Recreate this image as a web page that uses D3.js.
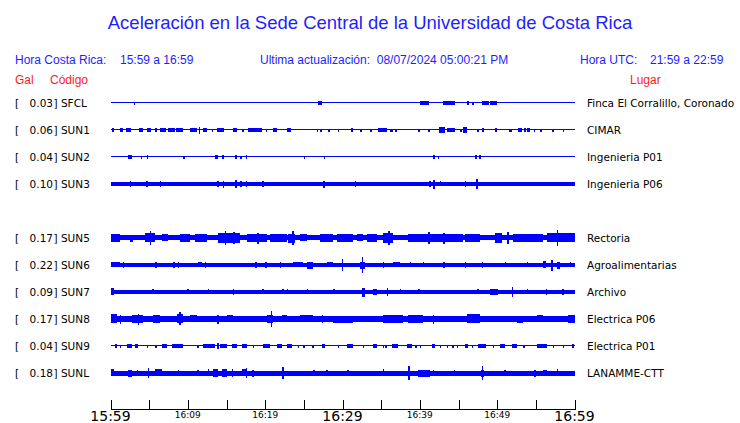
<!DOCTYPE html>
<html><head><meta charset="utf-8">
<script src="https://cdn.jsdelivr.net/npm/d3@7"></script>
<style>body{margin:0;background:#fff}svg{display:block}</style>
</head><body>
<script>
// ---------- DATA ----------
const title = "Aceleración en la Sede Central de la Universidad de Costa Rica";
const headerCR = ["Hora Costa Rica:", "15:59 a 16:59"];
const headerUpd = "Ultima actualización:  08/07/2024 05:00:21 PM";
const headerUTC = ["Hora UTC:", "21:59 a 22:59"];
const codes  = ["SFCL","SUN1","SUN2","SUN3","SUN5","SUN6","SUN7","SUN8","SUN9","SUNL"];
const gals   = [0.03, 0.06, 0.04, 0.10, 0.17, 0.22, 0.09, 0.17, 0.04, 0.18];
const places = ["Finca El Corralillo, Coronado","CIMAR","Ingenieria P01","Ingenieria P06","Rectoria","Agroalimentarias","Archivo","Electrica P06","Electrica P01","LANAMME-CTT"];
const slots  = [0,1,2,3,5,6,7,8,9,10];
const tickMinutes = [0,5,10,15,20,25,30,35,40,45,50,55,60];
const tickLabels = {0:"15:59",10:"16:09",20:"16:19",30:"16:29",40:"16:39",50:"16:49",60:"16:59"};
const majorTicks = [0,30,60];
// background noise half-amplitude (Gal) per station
const baseAmp = [0.014,0.014,0.014,0.055,0.075,0.06,0.06,0.08,0.014,0.065];
// bursts per station: [startMinute, endMinute, half-amplitude Gal]
const bSFCL = [[3.0,3.1,0.04],[26.8,27.3,0.05],[40.0,41.2,0.06],[43.0,44.5,0.06],[46.1,46.4,0.05],[46.8,46.9,0.04],[48.0,48.9,0.06],[49.1,50.0,0.06]];
const bSUN1 = [[0.2,0.3,0.05],[1.2,1.6,0.05],[2.0,2.7,0.05],[3.7,4.2,0.05],[4.7,5.2,0.05],[5.8,5.9,0.05],[6.4,7.2,0.05],[7.4,8.3,0.05],[8.5,9.4,0.05],[10.3,11.2,0.05],[11.4,11.5,0.09],[12.0,12.5,0.05],[13.1,13.2,0.04],[13.8,14.7,0.05],[15.8,16.4,0.05],[17.0,17.3,0.04],[17.8,19.6,0.05],[20.1,20.2,0.04],[21.0,21.5,0.05],[22.8,23.3,0.05],[26.7,26.8,0.04],[27.1,27.2,0.04],[28.1,28.4,0.04],[29.4,29.5,0.04],[31.1,31.2,0.05],[32.3,32.4,0.04],[33.6,33.7,0.04],[34.6,35.8,0.05],[36.1,36.5,0.04],[36.8,36.9,0.04],[39.8,39.9,0.04],[41.1,41.3,0.04],[42.5,43.2,0.08],[43.5,44.5,0.05],[45.2,45.3,0.04],[45.6,46.1,0.08],[47.4,47.5,0.04],[48.0,48.3,0.05],[49.7,50.0,0.05],[51.5,51.9,0.04],[52.7,53.2,0.05],[53.5,53.7,0.05],[53.8,54.2,0.06],[54.7,54.8,0.04],[55.6,55.7,0.04],[57.1,57.2,0.04],[58.5,58.6,0.04]];
const bSUN2 = [[2.3,2.8,0.05],[3.9,4.0,0.04],[4.7,4.8,0.05],[9.4,9.5,0.04],[13.5,13.9,0.05],[14.4,14.7,0.05],[16.1,16.4,0.05],[16.7,17.0,0.04],[17.5,17.7,0.05],[25.0,25.1,0.04],[27.6,27.7,0.04],[41.7,42.0,0.05],[42.3,42.4,0.04],[47.1,47.4,0.05],[47.6,47.9,0.05]];
const bSUN3 = [[2.5,2.6,0.08],[4.6,4.7,0.08],[6.4,6.5,0.08],[13.8,13.9,0.08],[14.5,14.7,0.09],[16.1,16.3,0.11],[16.8,16.9,0.08],[17.5,17.6,0.08],[19.6,19.7,0.08],[27.5,27.6,0.09],[31.6,31.7,0.08],[41.2,41.3,0.08],[41.7,42.0,0.12],[42.6,42.7,0.07],[45.8,45.9,0.08],[47.3,47.4,0.14]];
const bSUN5 = [[0,1.2,0.105],[2.5,2.9,0.095],[4.5,5.8,0.13],[5.1,5.2,0.19],[6.7,7.4,0.1],[9.0,10.3,0.105],[10.9,12.5,0.105],[13.9,16.7,0.135],[14.8,14.9,0.19],[15.9,16.0,0.17],[17.7,20.2,0.115],[19.0,19.1,0.15],[20.6,22.8,0.105],[23.0,23.9,0.12],[23.5,23.6,0.19],[24.5,25.4,0.1],[27.1,28.8,0.105],[29.3,31.4,0.115],[31.9,32.6,0.1],[33.2,34.5,0.115],[35.2,36.5,0.135],[35.9,36.0,0.19],[38.5,41.0,0.105],[41.1,41.2,0.17],[41.3,45.6,0.115],[43.0,43.1,0.15],[45.8,47.8,0.105],[49.7,50.6,0.135],[51.3,51.4,0.16],[52.0,55.9,0.105],[56.4,60,0.13],[57.7,57.8,0.22]];
const bSUN6 = [[0,1.2,0.07],[1.6,1.7,0.08],[5.8,5.9,0.08],[8.1,8.2,0.08],[8.7,8.8,0.08],[11.3,11.8,0.07],[12.2,12.3,0.08],[18.7,18.8,0.08],[20.0,20.1,0.08],[21.9,22.0,0.08],[23.6,24.9,0.07],[25.4,26.2,0.09],[28.0,28.8,0.07],[29.9,30.0,0.17],[32.2,32.9,0.09],[32.5,32.6,0.22],[35.2,35.3,0.08],[36.5,37.4,0.07],[38.7,38.8,0.07],[40.4,40.5,0.07],[43.0,43.1,0.08],[45.8,45.9,0.08],[48.0,48.1,0.08],[51.0,51.1,0.07],[53.8,53.9,0.07],[55.9,56.3,0.1],[57.0,57.1,0.15],[57.7,58.1,0.09],[59.4,59.5,0.07]];
const bSUN7 = [[0,0.5,0.1],[5.4,5.5,0.07],[9.9,10.0,0.07],[12.6,12.7,0.07],[15.8,15.9,0.08],[19.6,19.7,0.07],[22.2,22.3,0.07],[22.8,22.9,0.07],[25.4,25.5,0.07],[28.8,28.9,0.07],[32.5,32.9,0.12],[34.0,34.5,0.08],[35.7,35.8,0.11],[37.4,37.5,0.07],[39.8,39.9,0.07],[47.4,47.5,0.07],[49.1,50.1,0.08],[51.9,52.0,0.14],[53.8,53.9,0.07],[56.3,56.4,0.08],[58.4,58.5,0.08]];
const bSUN8 = [[0,0.8,0.13],[1.2,1.3,0.12],[2.8,4.2,0.115],[3.5,3.6,0.15],[5.5,6.4,0.105],[8.6,9.4,0.13],[8.9,9.0,0.18],[10.3,11.2,0.1],[13.8,13.9,0.12],[15.1,15.8,0.1],[20.2,21.0,0.115],[20.7,20.8,0.22],[22.2,22.8,0.1],[24.5,26.2,0.1],[27.3,27.4,0.11],[28.8,31.4,0.095],[35.2,37.8,0.105],[38.5,40.4,0.115],[41.7,41.8,0.12],[46.1,47.8,0.125],[52.6,53.3,0.095],[55.1,55.9,0.1],[59.2,60,0.11]];
const bSUN9 = [[0.6,0.7,0.05],[1.2,1.3,0.04],[2.1,2.8,0.05],[3.2,3.6,0.05],[4.7,4.8,0.04],[5.8,5.9,0.04],[6.7,7.3,0.05],[8.0,9.4,0.05],[11.2,11.3,0.04],[12.0,13.5,0.05],[13.8,13.9,0.08],[14.2,15.1,0.05],[15.7,16.4,0.05],[17.0,17.7,0.05],[18.4,18.5,0.04],[19.7,20.6,0.05],[21.5,22.2,0.05],[22.8,23.5,0.05],[24.2,24.3,0.04],[24.9,25.0,0.04],[26.1,26.2,0.04],[27.4,27.7,0.05],[29.4,29.5,0.04],[30.6,31.3,0.05],[32.6,32.7,0.04],[33.9,34.5,0.05],[35.2,35.3,0.04],[35.5,35.6,0.04],[36.4,37.2,0.05],[38.3,39.0,0.05],[39.4,39.5,0.04],[40.0,40.1,0.04],[41.6,42.0,0.05],[42.6,42.7,0.04],[43.5,43.6,0.04],[44.2,44.3,0.04],[44.8,44.9,0.04],[45.8,46.2,0.05],[46.7,46.9,0.04],[47.5,48.6,0.05],[49.4,49.5,0.04],[50.4,51.0,0.05],[51.9,52.6,0.05],[53.4,53.5,0.04],[55.2,56.4,0.05],[57.2,57.3,0.04],[58.5,58.6,0.04],[59.7,59.8,0.05]];
const bSUNL = [[0,0.4,0.1],[2.3,2.8,0.09],[3.4,3.5,0.08],[4.8,4.9,0.14],[5.8,6.7,0.1],[8.7,8.8,0.08],[11.2,11.3,0.08],[12.6,12.7,0.1],[13.3,13.9,0.11],[14.4,15.1,0.115],[15.7,15.8,0.11],[17.0,17.7,0.1],[17.5,17.6,0.14],[18.3,18.4,0.09],[22.2,22.3,0.17],[26.2,26.3,0.08],[27.9,28.0,0.08],[30.6,30.7,0.08],[35.2,35.3,0.1],[38.5,38.6,0.19],[39.8,41.3,0.09],[41.7,41.8,0.08],[44.4,44.5,0.08],[47.9,48.3,0.09],[48.0,48.1,0.19],[50.9,51.0,0.08],[54.8,54.9,0.09],[55.9,56.4,0.08],[57.7,57.8,0.1]];
const bursts = [bSFCL,bSUN1,bSUN2,bSUN3,bSUN5,bSUN6,bSUN7,bSUN8,bSUN9,bSUNL];

// ---------- CHART ----------
const W = 740, H = 423;
const blue = "#0000ff", headBlue = "#1e1eff", red = "#ff1a1a";
const svg = d3.select("body").append("svg").attr("width", W).attr("height", H);

const x = d3.scaleLinear().domain([0, 60]).range([110.5, 574.5]);
const y = d3.scaleLinear().domain([0, 10]).range([103, 373]);
const amp = d3.scaleLinear().domain([0, 0.22]).range([0, 8]);

svg.append("text").attr("x", 370).attr("y", 29).attr("text-anchor", "middle")
  .attr("font-family", "Liberation Sans, Arial, sans-serif").attr("font-size", 18.5)
  .attr("fill", headBlue).text(title);

const hf = "Liberation Sans, Arial, sans-serif";
function htext(xp, yp, t, c) {
  svg.append("text").attr("x", xp).attr("y", yp).attr("font-family", hf)
    .attr("font-size", 12).attr("fill", c).attr("xml:space","preserve").style("white-space","pre").text(t);
}
htext(15, 64, headerCR[0], headBlue);
htext(120, 64, headerCR[1], headBlue);
htext(260, 64, headerUpd, headBlue);
htext(580, 64, headerUTC[0], headBlue);
htext(650, 64, headerUTC[1], headBlue);
htext(15, 84, "Gal", red);
htext(50, 84, "Código", red);
htext(630, 84, "Lugar", red);

const lf = "DejaVu Sans, sans-serif";
const fs = 10.5;
const rows = svg.append("g");
codes.forEach((c, i) => {
  const yc = y(slots[i]);
  const g = rows.append("g");
  g.append("text").attr("x", 15).attr("y", yc + 4).attr("font-family", lf).attr("font-size", fs).text("[");
  g.append("text").attr("x", 53).attr("y", yc + 4).attr("text-anchor", "end").attr("font-family", lf).attr("font-size", fs).text(gals[i].toFixed(2));
  g.append("text").attr("x", 53.5).attr("y", yc + 4).attr("font-family", lf).attr("font-size", fs).text("] " + c);
  g.append("text").attr("x", 587).attr("y", yc + 4).attr("font-family", lf).attr("font-size", fs).text(places[i]);

  const tr = g.append("g").attr("fill", blue).attr("shape-rendering", "crispEdges");
  const bh = Math.max(0.5, amp(baseAmp[i]));
  tr.append("rect").attr("x", x(0)).attr("width", x(60) - x(0))
    .attr("y", Math.round(yc - bh)).attr("height", Math.max(1, Math.round(2 * bh)));
  tr.selectAll("rect.b").data(bursts[i]).enter().append("rect").attr("class", "b")
    .attr("x", d => x(d[0]))
    .attr("width", d => Math.max(1.5, x(d[1]) - x(d[0])))
    .attr("y", d => Math.round(yc - amp(d[2])))
    .attr("height", d => Math.max(1, Math.round(2 * amp(d[2]))));
});

// time axis
const ax = svg.append("g").attr("stroke", "#000").attr("shape-rendering", "crispEdges");
ax.append("line").attr("x1", x(0)).attr("x2", x(60)).attr("y1", 409.5).attr("y2", 409.5);
ax.selectAll("line.t").data(tickMinutes).enter().append("line").attr("class", "t")
  .attr("x1", d => Math.round(x(d)) + 0.5).attr("x2", d => Math.round(x(d)) + 0.5)
  .attr("y1", 400).attr("y2", 409.5);
svg.selectAll("text.tl").data(Object.keys(tickLabels).map(Number)).enter().append("text")
  .attr("class", "tl").attr("x", d => x(d)).attr("text-anchor", "middle")
  .attr("y", d => majorTicks.includes(d) ? 421 : 418)
  .attr("font-family", lf).attr("font-size", d => majorTicks.includes(d) ? 14 : 9)
  .text(d => tickLabels[d]);
</script>
</body></html>
